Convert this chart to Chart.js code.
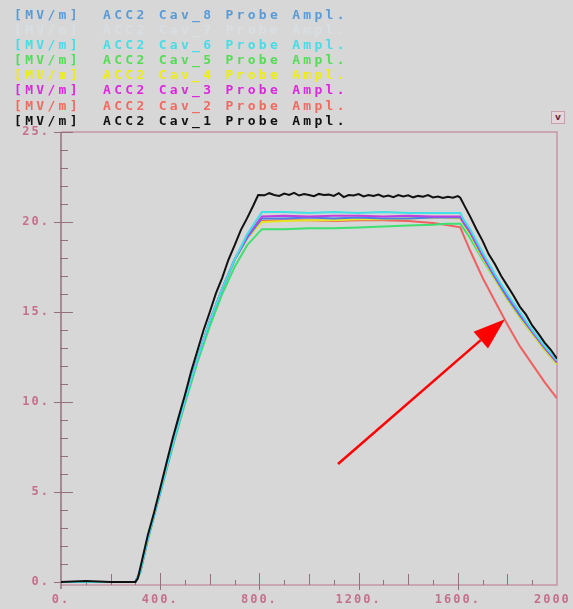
<!DOCTYPE html>
<html>
<head>
<meta charset="utf-8">
<script src="https://cdn.jsdelivr.net/npm/chart.js@4"></script>
<style>
  html, body { margin: 0; padding: 0; background: #d7d7d7; }
  #wrap { position: relative; width: 573px; height: 609px; overflow: hidden; }
  #chart { position: absolute; left: 0; top: 0; }
  #legend {
    position: absolute; left: 14px; top: 7px;
    font-family: "DejaVu Sans Mono", monospace; font-size: 13px; font-weight: bold;
    letter-spacing: 3.3px; line-height: 15.1px; white-space: pre;
  }
  #btn {
    position: absolute; left: 551px; top: 111px; width: 12px; height: 11px;
    border: 1px solid #c9a0b0; background: #e6d6dc; color: #6a2848;
    font: bold 9px "DejaVu Sans", sans-serif; text-align: center; line-height: 10px;
  }
</style>
</head>
<body>
<div id="wrap">
  <canvas id="chart" width="573" height="609"></canvas>
  <div id="legend"></div>
  <div id="btn">v</div>
</div>
<script>
// legend rows, top to bottom
const legendNames = ['Cav_8', 'Cav_7', 'Cav_6', 'Cav_5', 'Cav_4', 'Cav_3', 'Cav_2', 'Cav_1'];
const legendColors = ['#5a9bd6', '#d9dee2', '#45dde6', '#55dc55', '#eded10', '#dc28dc', '#f06a60', '#111111'];

const xTicks = [0, 400, 800, 1200, 1600, 2000];
const yTicks = [0, 5, 10, 15, 20, 25];

// time axis for the coloured probes
const colTime = [0, 150, 300, 320, 350, 400, 450, 500, 550, 600, 650, 700, 750, 810,
  900, 1000, 1100, 1200, 1300, 1400, 1500, 1550, 1610,
  1625, 1650, 1700, 1750, 1800, 1850, 1900, 1950, 2000];

const cav6 = [0, 0, 0, 0.6, 2.4, 5.0, 7.6, 10.1, 12.4, 14.5, 16.3, 17.9, 19.3, 20.55,
  20.55, 20.5, 20.55, 20.5, 20.55, 20.5, 20.5, 20.5, 20.5,
  20.1, 19.6, 18.3, 17.1, 16.0, 15.0, 14.0, 13.1, 12.3];
const cav8 = [0, 0, 0, 0.6, 2.4, 5.0, 7.6, 10.1, 12.4, 14.5, 16.3, 17.9, 19.1, 20.2,
  20.2, 20.25, 20.2, 20.25, 20.2, 20.2, 20.25, 20.25, 20.25,
  19.9, 19.4, 18.1, 16.9, 15.8, 14.8, 13.9, 13.0, 12.2];
const cav3 = [0, 0, 0, 0.6, 2.4, 5.0, 7.6, 10.1, 12.4, 14.5, 16.3, 17.9, 19.2, 20.3,
  20.35, 20.3, 20.35, 20.35, 20.3, 20.35, 20.3, 20.3, 20.3,
  19.95, 19.45, 18.15, 17.0, 15.9, 14.9, 13.9, 13.0, 12.2];
const cav4 = [0, 0, 0, 0.6, 2.4, 5.0, 7.6, 10.1, 12.4, 14.5, 16.3, 17.9, 19.1, 20.0,
  20.05, 20.1, 20.1, 20.15, 20.15, 20.2, 20.25, 20.25, 20.2,
  19.85, 19.3, 18.0, 16.8, 15.7, 14.7, 13.8, 12.9, 12.1];
const cav5 = [0, 0, 0, 0.5, 2.3, 4.9, 7.5, 9.9, 12.2, 14.2, 16.0, 17.5, 18.7, 19.6,
  19.6, 19.65, 19.65, 19.7, 19.75, 19.8, 19.85, 19.9, 19.9,
  19.6, 19.1, 17.9, 16.8, 15.7, 14.7, 13.8, 12.9, 12.1];
const cav2 = [0, 0, 0, 0.6, 2.4, 5.0, 7.6, 10.1, 12.4, 14.5, 16.3, 17.9, 19.1, 20.05,
  20.1, 20.1, 20.05, 20.1, 20.1, 20.05, 19.95, 19.85, 19.7,
  19.2, 18.4, 16.9, 15.6, 14.3, 13.1, 12.1, 11.1, 10.2];

// Cav_1 is noisier, sampled finer
const blackTime = [0, 100, 200, 300, 310, 330, 350, 375, 400, 425, 450, 475, 500, 525, 550, 575,
  600, 625, 650, 675, 700, 725, 750, 775, 795,
  820, 840, 860, 880, 900, 920, 940, 960, 980, 1000, 1020, 1040, 1060, 1080, 1100, 1120,
  1140, 1160, 1180, 1200, 1220, 1240, 1260, 1280, 1300, 1320, 1340, 1360, 1380, 1400,
  1420, 1440, 1460, 1480, 1500, 1520, 1540, 1560, 1580, 1600, 1610,
  1625, 1650, 1675, 1700, 1725, 1750, 1775, 1800, 1825, 1850, 1875, 1900, 1925, 1950, 1975, 2000];
const cav1 = [0, 0.05, 0, 0, 0.2, 1.4, 2.6, 3.85, 5.2, 6.6, 7.95, 9.2, 10.4, 11.7, 12.85, 14.0,
  15.0, 16.05, 16.9, 17.9, 18.7, 19.55, 20.2, 20.9, 21.5,
  21.48, 21.6, 21.5, 21.45, 21.58, 21.5, 21.62, 21.47, 21.55, 21.5, 21.43, 21.56, 21.5, 21.52, 21.45, 21.6,
  21.38, 21.5, 21.47, 21.55, 21.42, 21.5, 21.44, 21.52, 21.4, 21.47, 21.38, 21.5, 21.42, 21.48,
  21.37, 21.45, 21.4, 21.5, 21.36, 21.42, 21.33, 21.4, 21.35, 21.44, 21.35,
  20.95, 20.3, 19.6, 18.95, 18.2, 17.65, 17.0, 16.45, 15.9, 15.3, 14.85, 14.25, 13.8, 13.3, 12.9, 12.4];

// annotation arrow in data units (tail, tip)
const arrowFrom = [1117, 6.55];
const arrowTo = [1790, 14.6];

const legendEl = document.getElementById('legend');
legendNames.forEach((n, i) => {
  const d = document.createElement('div');
  d.style.color = legendColors[i];
  d.textContent = '[MV/m]  ACC2 ' + n + ' Probe Ampl.';
  legendEl.appendChild(d);
});

function pairs(ts, vs) {
  return ts.map((t, i) => ({ x: t, y: vs[i] }));
}

function line(label, ts, vs, color, order) {
  return {
    label: label,
    data: pairs(ts, vs),
    borderColor: color,
    borderWidth: 2,
    pointRadius: 0,
    tension: 0,
    order: order
  };
}

const frameColor = '#c596a6';
const axisColor = '#94707e';
const labelColor = '#c4708c';

const scopeFrame = {
  id: 'scopeFrame',
  beforeDraw(chart) {
    chart.ctx.letterSpacing = '2px';
  },
  beforeDatasetsDraw(chart) {
    const { ctx, chartArea: a, scales: { x, y } } = chart;
    ctx.save();
    ctx.lineWidth = 1.5;
    ctx.strokeStyle = frameColor;
    ctx.beginPath();
    ctx.moveTo(a.left, a.top);
    ctx.lineTo(a.right, a.top);
    ctx.lineTo(a.right, a.bottom);
    ctx.lineTo(a.left, a.bottom);
    ctx.stroke();
    ctx.strokeStyle = axisColor;
    ctx.beginPath();
    ctx.moveTo(a.left, a.top);
    ctx.lineTo(a.left, a.bottom + 4);
    ctx.stroke();

    // y ticks crossing the axis
    ctx.lineWidth = 1;
    for (let v = 0; v <= 25; v++) {
      const py = Math.round(y.getPixelForValue(v)) + 0.5;
      ctx.beginPath();
      if (v % 5 === 0) { ctx.moveTo(a.left - 7, py); ctx.lineTo(a.left + 12, py); }
      else { ctx.moveTo(a.left - 1, py); ctx.lineTo(a.left + 7, py); }
      ctx.stroke();
    }
    // x ticks pointing up from the bottom line
    for (let v = 100; v < 2000; v += 100) {
      const px = Math.round(x.getPixelForValue(v)) + 0.5;
      ctx.beginPath();
      if (v % 400 === 0) { ctx.moveTo(px, a.bottom + 5); ctx.lineTo(px, a.bottom - 12); }
      else if (v % 200 === 0) { ctx.moveTo(px, a.bottom); ctx.lineTo(px, a.bottom - 11); }
      else { ctx.moveTo(px, a.bottom); ctx.lineTo(px, a.bottom - 5); }
      ctx.stroke();
    }
    ctx.restore();
  },
  afterDatasetsDraw(chart) {
    const { ctx, scales: { x, y } } = chart;
    const x0 = x.getPixelForValue(arrowFrom[0]), y0 = y.getPixelForValue(arrowFrom[1]);
    const x1 = x.getPixelForValue(arrowTo[0]), y1 = y.getPixelForValue(arrowTo[1]);
    const ang = Math.atan2(y1 - y0, x1 - x0);
    const len = 32, half = 11;
    const bx = x1 - len * Math.cos(ang), by = y1 - len * Math.sin(ang);
    ctx.save();
    ctx.strokeStyle = '#ff0000';
    ctx.fillStyle = '#ff0000';
    ctx.lineWidth = 2.5;
    ctx.beginPath();
    ctx.moveTo(x0, y0);
    ctx.lineTo(bx, by);
    ctx.stroke();
    ctx.beginPath();
    ctx.moveTo(x1, y1);
    ctx.lineTo(bx + half * Math.sin(ang), by - half * Math.cos(ang));
    ctx.lineTo(bx - half * Math.sin(ang), by + half * Math.cos(ang));
    ctx.closePath();
    ctx.fill();
    ctx.restore();
  }
};

const tickFont = { family: '"DejaVu Sans Mono", monospace', size: 12, weight: 'bold' };

new Chart(document.getElementById('chart').getContext('2d'), {
  type: 'line',
  data: {
    datasets: [
      line('Cav_1', blackTime, cav1, '#111111', 0),
      line('Cav_6', colTime, cav6, '#3fe0e6', 1),
      line('Cav_3', colTime, cav3, '#c040e0', 2),
      line('Cav_8', colTime, cav8, '#4a7fe6', 3),
      line('Cav_4', colTime, cav4, '#e6e620', 4),
      line('Cav_5', colTime, cav5, '#3ee070', 5),
      line('Cav_2', colTime, cav2, '#f06060', 6)
    ]
  },
  options: {
    responsive: false,
    animation: false,
    devicePixelRatio: 1,
    layout: { padding: { top: 132, right: 16, left: 0, bottom: 0 } },
    plugins: { legend: { display: false }, tooltip: { enabled: false } },
    scales: {
      x: {
        type: 'linear',
        min: 0,
        max: 2000,
        afterFit: s => { s.height = 24; s.paddingLeft = 0; s.paddingRight = 0; },
        afterBuildTicks: s => { s.ticks = xTicks.map(v => ({ value: v })); },
        grid: { display: false, drawTicks: false },
        border: { display: false },
        ticks: { color: labelColor, font: tickFont, padding: 8, maxRotation: 0, autoSkip: false,
          callback: v => v + '.' }
      },
      y: {
        min: -0.17,
        max: 25,
        afterFit: s => { s.width = 61; s.paddingTop = 0; s.paddingBottom = 0; },
        afterBuildTicks: s => { s.ticks = yTicks.map(v => ({ value: v })); },
        grid: { display: false, drawTicks: false },
        border: { display: false },
        ticks: { color: labelColor, font: tickFont, padding: 11, callback: v => v + '.' }
      }
    }
  },
  plugins: [scopeFrame]
});
</script>
</body>
</html>
